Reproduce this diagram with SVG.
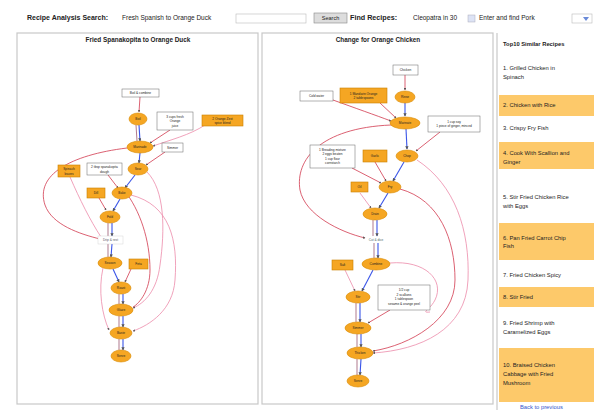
<svg xmlns="http://www.w3.org/2000/svg" width="594" height="410" viewBox="0 0 594 410">
<defs>
<style>
text{font-family:"Liberation Sans",Arial,sans-serif;fill:#222}
.hdr{font-size:6.5px}
.b{font-weight:bold}
.ttl{font-size:6.4px;font-weight:bold;text-anchor:middle}
.panel{fill:#fff;stroke:#c8c8c8;stroke-width:1.2}
.op ellipse{fill:#f5a623;stroke:#d98a00;stroke-width:0.6}
.ing rect{fill:#f5a623;stroke:#c98000;stroke-width:0.6}
.note rect{fill:#fff;stroke:#666;stroke-width:0.5}
.nt{font-size:3.2px;text-anchor:middle}
.e-blue{stroke:#3a55e8;stroke-width:1.1;fill:none}
.e-dark{stroke:#7a2040;stroke-width:0.6;fill:none}
.e-red{stroke:#d2384e;stroke-width:0.8;fill:none}
.e-pink{stroke:#ec8aaa;stroke-width:0.8;fill:none}
.side{font-size:5.8px}
.hl{fill:#fdc96a}
</style>
<marker id="ah" viewBox="0 0 6 6" refX="5" refY="3" markerWidth="3" markerHeight="3" orient="auto"><path d="M0,0 L6,3 L0,6 z" fill="#555"/></marker>
</defs>
<rect width="594" height="410" fill="#fff"/>

<!-- header -->
<g id="header">
<text class="hdr b" x="27" y="20" style="font-size:7px">Recipe Analysis Search:</text>
<text class="hdr" x="122" y="20">Fresh Spanish to Orange Duck</text>
<rect x="236" y="14" width="70" height="9" fill="#fff" stroke="#bbb" stroke-width="0.6"/>
<rect x="314" y="13" width="33" height="10" fill="#ddd" stroke="#888" stroke-width="0.6"/>
<text class="hdr" x="330.5" y="20" text-anchor="middle" style="font-size:5.5px">Search</text>
<text class="hdr b" x="350" y="20" style="font-size:7.2px">Find Recipes:</text>
<text class="hdr" x="413" y="20">Cleopatra in 30</text>
<rect x="468" y="15" width="7" height="7" fill="#dde3f5" stroke="#aab" stroke-width="0.5"/>
<text class="hdr" x="479" y="20">Enter and find Pork</text>
<rect x="572" y="14" width="20" height="9" fill="#fff" stroke="#bbb" stroke-width="0.6"/>
<path d="M583,17 L589,17 L586,21 z" fill="#6a8ad8"/>
</g>

<!-- panels -->
<rect class="panel" x="17" y="33" width="241" height="371"/>
<rect class="panel" x="262" y="33" width="231" height="371"/>
<text class="ttl" x="138" y="41.5">Fried Spanakopita to Orange Duck</text>
<text class="ttl" x="378" y="41.5">Change for Orange Chicken</text>

<!-- connectors -->
<g id="connectors">
<!-- left graph -->
<path class="e-red" d="M140,97 L139,112" marker-end="url(#ah)"/>
<path class="e-blue" d="M139,125 L140,141" marker-end="url(#ah)"/>
<path class="e-dark" d="M136,125 L137,141"/>
<path class="e-red" d="M170,130 L150,143" marker-end="url(#ah)"/>
<path class="e-pink" d="M205,125 C190,135 170,140 153,146" marker-end="url(#ah)"/>
<path class="e-red" d="M165,152 L146,165" marker-end="url(#ah)"/>
<path class="e-blue" d="M140,153 L139,163" marker-end="url(#ah)"/>
<path class="e-blue" d="M135,175 L125,188" marker-end="url(#ah)"/>
<path class="e-red" d="M108,175 L118,188" marker-end="url(#ah)"/>
<path class="e-red" d="M99,198 L106,210" marker-end="url(#ah)"/>
<path class="e-blue" d="M120,199 L113,211" marker-end="url(#ah)"/>
<path class="e-blue" d="M112,223 L112,236" marker-end="url(#ah)"/>
<path class="e-dark" d="M108,223 L108,236"/>
<path class="e-red" d="M127,148 C70,155 35,175 45,205 C52,225 80,234 100,239" marker-end="url(#ah)"/>
<path class="e-pink" d="M70,177 C80,200 90,220 101,237"/>
<path class="e-blue" d="M112,244 L111,257" marker-end="url(#ah)"/>
<path class="e-dark" d="M108,244 L108,257"/>
<path class="e-blue" d="M113,269 L119,282" marker-end="url(#ah)"/>
<path class="e-red" d="M131,269 L125,282" marker-end="url(#ah)"/>
<path class="e-blue" d="M123,294 L123,304" marker-end="url(#ah)"/>
<path class="e-dark" d="M119,294 L119,304"/>
<path class="e-blue" d="M123,316 L123,327" marker-end="url(#ah)"/>
<path class="e-dark" d="M119,316 L119,327"/>
<path class="e-blue" d="M123,339 L123,350" marker-end="url(#ah)"/>
<path class="e-dark" d="M119,339 L119,350"/>
<path class="e-pink" d="M147,172 C165,190 165,230 160,265 C157,290 145,303 133,308" marker-end="url(#ah)"/>
<path class="e-pink" d="M131,195 C170,205 178,240 175,280 C173,310 150,325 133,331" marker-end="url(#ah)"/>
<path class="e-pink" d="M103,268 C98,290 102,315 109,330" marker-end="url(#ah)"/>
<path class="e-red" d="M124,190 C140,210 150,240 150,270 C150,290 140,303 133,307"/>

<!-- middle graph -->
<path class="e-red" d="M405,75 L405,90" marker-end="url(#ah)"/>
<path class="e-blue" d="M405,103 L405,116" marker-end="url(#ah)"/>
<path class="e-red" d="M380,103 L396,118" marker-end="url(#ah)"/>
<path class="e-red" d="M333,100 C355,108 375,115 391,121" marker-end="url(#ah)"/>
<path class="e-red" d="M440,132 L416,151" marker-end="url(#ah)"/>
<path class="e-blue" d="M406,129 L407,149" marker-end="url(#ah)"/>
<path class="e-red" d="M391,125 C320,128 295,160 300,190 C305,215 340,232 365,238" marker-end="url(#ah)"/>
<path class="e-blue" d="M404,162 L393,181" marker-end="url(#ah)"/>
<path class="e-red" d="M375,162 L386,181" marker-end="url(#ah)"/>
<path class="e-red" d="M352,168 L381,183" marker-end="url(#ah)"/>
<path class="e-pink" d="M417,160 C455,185 470,230 468,280 C466,330 420,350 373,353" marker-end="url(#ah)"/>
<path class="e-red" d="M400,189 C440,200 455,240 455,280 C455,320 410,345 373,351" marker-end="url(#ah)"/>
<path class="e-blue" d="M388,193 L379,208" marker-end="url(#ah)"/>
<path class="e-pink" d="M360,193 L371,208" marker-end="url(#ah)"/>
<path class="e-blue" d="M377,220 L377,236" marker-end="url(#ah)"/>
<path class="e-dark" d="M373,220 L373,236"/>
<path class="e-blue" d="M378,243 L378,258" marker-end="url(#ah)"/>
<path class="e-dark" d="M374,243 L374,258"/>
<path class="e-blue" d="M373,270 L362,291" marker-end="url(#ah)"/>
<path class="e-pink" d="M345,270 L355,291" marker-end="url(#ah)"/>
<path class="e-pink" d="M390,263 C425,260 445,280 435,300 C430,310 420,313 430,312"/>
<path class="e-red" d="M390,310 L368,323" marker-end="url(#ah)"/>
<path class="e-blue" d="M360,303 L360,322" marker-end="url(#ah)"/>
<path class="e-dark" d="M356,303 L356,322"/>
<path class="e-blue" d="M361,334 L361,347" marker-end="url(#ah)"/>
<path class="e-dark" d="M357,334 L357,347"/>
<path class="e-blue" d="M361,359 L360,375" marker-end="url(#ah)"/>
<path class="e-dark" d="M357,359 L357,375"/>
</g>

<!-- left graph nodes -->
<g id="L-box1" class="note"><rect x="122" y="89" width="37" height="8"/><text class="nt" x="140.5" y="94.3">Boil &amp; combine</text></g>
<g id="L-e1" class="op"><ellipse cx="138" cy="119" rx="9" ry="6"/><text class="nt" x="138" y="120.2">Boil</text></g>
<g id="L-note2" class="note"><rect x="157" y="112" width="36" height="18"/><text class="nt" x="175" y="117.5">3 cups fresh</text><text class="nt" x="175" y="122">Orange</text><text class="nt" x="175" y="126.5">juice</text></g>
<g id="L-ing1" class="ing"><rect x="202" y="115" width="41" height="11"/><text class="nt" x="222.5" y="119.8">2 Orange Zest</text><text class="nt" x="222.5" y="124">spice blend</text></g>
<g id="L-e2" class="op"><ellipse cx="140" cy="147" rx="13" ry="6"/><text class="nt" x="140" y="148.2">Marinade</text></g>
<g id="L-note3" class="note"><rect x="162" y="143" width="21" height="9"/><text class="nt" x="172.5" y="148.7">Simmer</text></g>
<g id="L-e3" class="op"><ellipse cx="138" cy="169" rx="10" ry="6"/><text class="nt" x="138" y="170.2">Sear</text></g>
<g id="L-ing2" class="ing"><rect x="58" y="165" width="22" height="12"/><text class="nt" x="69" y="170">Spinach</text><text class="nt" x="69" y="174.5">leaves</text></g>
<g id="L-note4" class="note"><rect x="87" y="163" width="35" height="12"/><text class="nt" x="104.5" y="168">2 tbsp spanakopita</text><text class="nt" x="104.5" y="172.5">dough</text></g>
<g id="L-ing3" class="ing"><rect x="87" y="188" width="18" height="10"/><text class="nt" x="96" y="194.2">Dill</text></g>
<g id="L-e4" class="op"><ellipse cx="122" cy="193" rx="10" ry="6"/><text class="nt" x="122" y="194.2">Bake</text></g>
<g id="L-e5" class="op"><ellipse cx="110" cy="217" rx="10" ry="6"/><text class="nt" x="110" y="218.2">Fold</text></g>
<g id="L-note5"><rect x="98" y="236" width="25" height="8" fill="#fff" stroke="#ccc" stroke-width="0.4"/><text class="nt" x="110.5" y="241.2" style="fill:#556">Drip &amp; rest</text></g>
<g id="L-e6" class="op"><ellipse cx="110" cy="263" rx="12" ry="6"/><text class="nt" x="110" y="264.2">Season</text></g>
<g id="L-ing4" class="ing"><rect x="129" y="259" width="19" height="10"/><text class="nt" x="138.5" y="265.2">Feta</text></g>
<g id="L-e7" class="op"><ellipse cx="121" cy="288" rx="10" ry="6"/><text class="nt" x="121" y="289.2">Roast</text></g>
<g id="L-e8" class="op"><ellipse cx="121" cy="310" rx="12" ry="6"/><text class="nt" x="121" y="311.2">Glaze</text></g>
<g id="L-e9" class="op"><ellipse cx="121" cy="333" rx="11" ry="6"/><text class="nt" x="121" y="334.2">Baste</text></g>
<g id="L-e10" class="op"><ellipse cx="121" cy="356" rx="10" ry="6"/><text class="nt" x="121" y="357.2">Serve</text></g>

<!-- middle graph nodes -->
<g id="M-box1" class="note"><rect x="393" y="65" width="25" height="10"/><text class="nt" x="405.5" y="71.2">Chicken</text></g>
<g id="M-ea" class="op"><ellipse cx="405" cy="97" rx="10" ry="6"/><text class="nt" x="405" y="98.2">Rinse</text></g>
<g id="M-ing1" class="ing"><rect x="340" y="88" width="47" height="15"/><text class="nt" x="363.5" y="94.5">1 Mandarin Orange</text><text class="nt" x="363.5" y="99">2 tablespoons</text></g>
<g id="M-note1" class="note"><rect x="300" y="91" width="33" height="10"/><text class="nt" x="316.5" y="97.2">Cold water</text></g>
<g id="M-eb" class="op"><ellipse cx="405" cy="123" rx="15" ry="6"/><text class="nt" x="405" y="124.2">Marinate</text></g>
<g id="M-note2" class="note"><rect x="428" y="116" width="52" height="16"/><text class="nt" x="454" y="122.5">1 cup soy</text><text class="nt" x="454" y="127">1 piece of ginger, minced</text></g>
<g id="M-ec" class="op"><ellipse cx="407" cy="156" rx="11" ry="6"/><text class="nt" x="407" y="157.2">Chop</text></g>
<g id="M-ing2" class="ing"><rect x="363" y="150" width="24" height="12"/><text class="nt" x="375" y="157.2">Garlic</text></g>
<g id="M-note3" class="note"><rect x="310" y="145" width="45" height="23"/><text class="nt" x="332.5" y="150.5">1 Breading mixture</text><text class="nt" x="332.5" y="155">2 eggs beaten</text><text class="nt" x="332.5" y="159.5">1 cup flour</text><text class="nt" x="332.5" y="164">cornstarch</text></g>
<g id="M-ing3" class="ing"><rect x="351" y="182" width="17" height="10"/><text class="nt" x="359.5" y="188.2">Oil</text></g>
<g id="M-ed" class="op"><ellipse cx="390" cy="187" rx="11" ry="6"/><text class="nt" x="390" y="188.2">Fry</text></g>
<g id="M-ee" class="op"><ellipse cx="375" cy="214" rx="12" ry="6"/><text class="nt" x="375" y="215.2">Drain</text></g>
<g id="M-lbl"><text class="nt" x="376" y="241.2" style="fill:#4a6a6a">Cut &amp; dice</text></g>
<g id="M-ef" class="op"><ellipse cx="376" cy="264" rx="14" ry="6"/><text class="nt" x="376" y="265.2">Combine</text></g>
<g id="M-ing4" class="ing"><rect x="332" y="260" width="21" height="10"/><text class="nt" x="342.5" y="266.2">Salt</text></g>
<g id="M-eg" class="op"><ellipse cx="358" cy="297" rx="12" ry="6"/><text class="nt" x="358" y="298.2">Stir</text></g>
<g id="M-note4" class="note"><rect x="378" y="285" width="52" height="25"/><text class="nt" x="404" y="291">1/2 cup</text><text class="nt" x="404" y="295.5">2 scallions</text><text class="nt" x="404" y="300">1 tablespoon</text><text class="nt" x="404" y="304.5">sesame &amp; orange peel</text></g>
<g id="M-eh" class="op"><ellipse cx="358" cy="328" rx="13" ry="6"/><text class="nt" x="358" y="329.2">Simmer</text></g>
<g id="M-ei" class="op"><ellipse cx="360" cy="353" rx="13" ry="6"/><text class="nt" x="360" y="354.2">Thicken</text></g>
<g id="M-ej" class="op"><ellipse cx="358" cy="381" rx="11" ry="6"/><text class="nt" x="358" y="382.2">Serve</text></g>

<!-- sidebar -->
<g id="sidebar">
<line x1="497" y1="33" x2="497" y2="410" stroke="#c8c8c8" stroke-width="1.2"/>
<text class="side b" x="503" y="46" style="font-size:5.8px">Top10 Similar Recipes</text>
<text class="side" x="503" y="70">1. Grilled Chicken in</text>
<text class="side" x="503" y="79">Spinach</text>
<rect class="hl" x="499" y="95" width="95" height="21"/>
<text class="side" x="503" y="107">2. Chicken with Rice</text>
<text class="side" x="503" y="130">3. Crispy Fry Fish</text>
<rect class="hl" x="499" y="142" width="95" height="27"/>
<text class="side" x="503" y="155">4. Cook With Scallion and</text>
<text class="side" x="503" y="164">Ginger</text>
<text class="side" x="503" y="199">5. Stir Fried Chicken Rice</text>
<text class="side" x="503" y="208">with Eggs</text>
<rect class="hl" x="499" y="223" width="95" height="37"/>
<text class="side" x="503" y="240">6. Pan Fried Carrot Chip</text>
<text class="side" x="503" y="248">Fish</text>
<text class="side" x="503" y="277">7. Fried Chicken Spicy</text>
<rect class="hl" x="499" y="287" width="95" height="20"/>
<text class="side" x="503" y="299">8. Stir Fried</text>
<text class="side" x="503" y="325">9. Fried Shrimp with</text>
<text class="side" x="503" y="334">Caramelized Eggs</text>
<rect class="hl" x="499" y="348" width="95" height="54"/>
<text class="side" x="503" y="367">10. Braised Chicken</text>
<text class="side" x="503" y="376">Cabbage with Fried</text>
<text class="side" x="503" y="385">Mushroom</text>
<text class="side" x="520" y="409" style="fill:#3355cc">Back to previous</text>
</g>
</svg>
